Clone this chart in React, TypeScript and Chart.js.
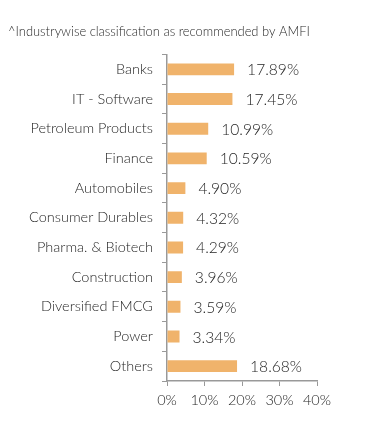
import React, { useEffect, useRef } from "react";
import { Chart, registerables } from "chart.js";

Chart.register(...registerables);

const categories = [
  "Banks",
  "IT - Software",
  "Petroleum Products",
  "Finance",
  "Automobiles",
  "Consumer Durables",
  "Pharma. & Biotech",
  "Construction",
  "Diversified FMCG",
  "Power",
  "Others",
];
const weights = [17.89, 17.45, 10.99, 10.59, 4.9, 4.32, 4.29, 3.96, 3.59, 3.34, 18.68];
const xTicks = [0, 10, 20, 30, 40];
const titleText = "^Industrywise classification as recommended by AMFI";

const FONT = "Lato, 'Noto Sans', sans-serif";

const valueLabels = {
  id: "valueLabels",
  afterDatasetsDraw(chart: any) {
    const { ctx } = chart;
    const meta = chart.getDatasetMeta(0);
    ctx.save();
    ctx.font = `300 15.6px ${FONT}`;
    ctx.fillStyle = "#1f1f1f";
    ctx.textAlign = "left";
    ctx.textBaseline = "middle";
    meta.data.forEach((bar: any, i: number) => {
      ctx.fillText(weights[i].toFixed(2) + "%", bar.x + 13, bar.y + 1);
    });
    ctx.restore();
  },
};

export default function App() {
  const ref = useRef<HTMLCanvasElement | null>(null);
  useEffect(() => {
    if (!ref.current) return;
    const chart = new Chart(ref.current, {
      type: "bar",
      data: {
        labels: categories,
        datasets: [
          {
            data: weights,
            backgroundColor: "#F0B36B",
            barPercentage: 0.8,
            categoryPercentage: 0.5,
          },
        ],
      },
      plugins: [valueLabels],
      options: {
        indexAxis: "y",
        animation: false,
        responsive: true,
        maintainAspectRatio: false,
        layout: { padding: { top: 0, right: 66, bottom: 0, left: 0 } },
        plugins: {
          legend: { display: false },
          tooltip: { enabled: false },
          title: {
            display: true,
            text: titleText,
            align: "start",
            color: "#2a2a2a",
            font: { family: FONT, size: 12.95, weight: 300 },
            padding: { top: 16, bottom: 15 },
          },
        },
        scales: {
          x: {
            min: 0,
            max: 40,
            afterBuildTicks: (scale: any) => {
              scale.ticks = xTicks.map((v) => ({ value: v }));
            },
            afterFit: (scale: any) => {
              scale.height = 50;
            },
            grid: {
              drawOnChartArea: false,
              drawTicks: true,
              tickLength: 5,
              color: "#999999",
            },
            border: { color: "#999999", width: 1.5 },
            ticks: {
              color: "#1f1f1f",
              font: { family: FONT, size: 14.5, weight: 300 },
              padding: 6,
              callback: (v: any) => v + "%",
            },
          },
          y: {
            afterFit: (scale: any) => {
              scale.width = 159;
            },
            grid: {
              drawOnChartArea: false,
              drawTicks: true,
              tickLength: 5,
              color: "#999999",
            },
            border: { color: "#999999", width: 1.5 },
            ticks: {
              color: "#1f1f1f",
              font: { family: FONT, size: 14.5, weight: 300 },
              padding: 9,
            },
          },
        },
      },
    });
    return () => chart.destroy();
  }, []);
  return (
    <div style={{ width: 375, height: 423, position: "relative" }}>
      <canvas ref={ref} />
    </div>
  );
}
